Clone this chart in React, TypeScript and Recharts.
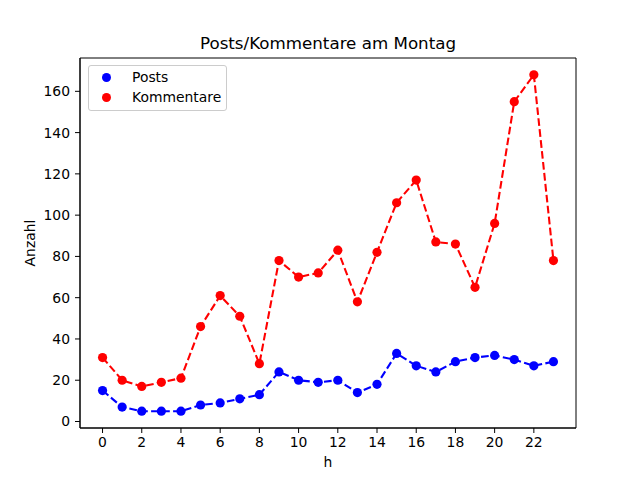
import {
  Legend,
  Line,
  LineChart,
  ReferenceArea,
  XAxis,
  YAxis,
} from 'recharts';

const hours = [
  0, 1, 2, 3, 4, 5, 6, 7, 8, 9, 10, 11, 12, 13, 14, 15, 16, 17, 18, 19, 20, 21, 22, 23,
];
const posts = [
  15, 7, 5, 5, 5, 8, 9, 11, 13, 24, 20, 19, 20, 14, 18, 33, 27, 24, 29, 31, 32, 30, 27, 29,
];
const kommentare = [
  31, 20, 17, 19, 21, 46, 61, 51, 28, 78, 70, 72, 83, 58, 82, 106, 117, 87, 86, 65, 96, 155, 168, 78,
];
const xTicks = [0, 2, 4, 6, 8, 10, 12, 14, 16, 18, 20, 22];
const yTicks = [0, 20, 40, 60, 80, 100, 120, 140, 160];

const X_DOMAIN: [number, number] = [-1.15, 24.15];
const Y_DOMAIN: [number, number] = [-3.15, 176.15];

const FONT = '"DejaVu Sans", sans-serif';
const BLUE = '#0000ff';
const RED = '#ff0000';

const data = hours.map((h, i) => ({ h, posts: posts[i], kommentare: kommentare[i] }));

const legendItems = [
  { label: 'Posts', color: BLUE },
  { label: 'Kommentare', color: RED },
];

function LegendBox() {
  return (
    <div
      style={{
        width: 137,
        height: 44,
        border: '1px solid #cccccc',
        borderRadius: 3,
        background: 'rgba(255,255,255,0.8)',
        boxSizing: 'content-box',
        fontFamily: FONT,
        fontSize: 13.9,
        color: '#000',
      }}
    >
      {legendItems.map((it, i) => (
        <div
          key={it.label}
          style={{ display: 'flex', alignItems: 'center', height: 20, marginTop: i === 0 ? 1 : 0 }}
        >
          <span
            style={{
              display: 'inline-block',
              width: 9,
              height: 9,
              borderRadius: '50%',
              background: it.color,
              marginLeft: 13,
              marginRight: 21,
            }}
          />
          <span>{it.label}</span>
        </div>
      ))}
    </div>
  );
}

export default function App() {
  return (
    <div style={{ position: 'absolute', left: 0, top: 0, width: 640, height: 480, background: '#fff' }}>
      <div
        style={{
          position: 'absolute',
          left: 80,
          width: 496,
          top: 33,
          textAlign: 'center',
          fontFamily: FONT,
          fontSize: 16.7,
          zIndex: 2,
        }}
      >
        Posts/Kommentare am Montag
      </div>
      <LineChart
        width={640}
        height={480}
        data={data}
        margin={{ top: 58, right: 64, bottom: 0, left: 0 }}
      >
        <XAxis
          dataKey="h"
          type="number"
          domain={X_DOMAIN}
          ticks={xTicks}
          interval={0}
          height={52}
          stroke="#000"
          tickSize={5}
          tickMargin={4}
          tick={{ fill: '#000', fontSize: 13.9, fontFamily: FONT }}
          label={{ value: 'h', position: 'insideBottom', offset: 13, fill: '#000', fontSize: 13.9, fontFamily: FONT }}
          allowDataOverflow
        />
        <YAxis
          type="number"
          domain={Y_DOMAIN}
          ticks={yTicks}
          interval={0}
          width={80}
          stroke="#000"
          tickSize={5}
          tickMargin={5}
          tick={{ fill: '#000', fontSize: 13.9, fontFamily: FONT }}
          allowDataOverflow
          label={{
            content: (props: any) => {
              const vb = props.viewBox || { x: 0, y: 58, width: 80, height: 370 };
              const cx = vb.x + 35;
              const cy = vb.y + vb.height / 2;
              return (
                <text
                  x={cx}
                  y={cy}
                  transform={`rotate(-90 ${cx} ${cy})`}
                  textAnchor="middle"
                  fill="#000"
                  fontSize={13.9}
                  fontFamily={FONT}
                >
                  Anzahl
                </text>
              );
            },
          }}
        />
        <ReferenceArea
          x1={X_DOMAIN[0]}
          x2={X_DOMAIN[1]}
          y1={Y_DOMAIN[0]}
          y2={Y_DOMAIN[1]}
          fill="none"
          stroke="#000"
          strokeWidth={1}
          ifOverflow="visible"
        />
        <Legend
          layout="vertical"
          align="center"
          verticalAlign="middle"
          content={() => <LegendBox />}
          wrapperStyle={{ left: 88, top: 65, width: 'auto' }}
        />
        <Line
          dataKey="posts"
          stroke={BLUE}
          strokeWidth={2.08}
          strokeDasharray="7.7 3.3"
          dot={{ r: 4.6, fill: BLUE, stroke: 'none' }}
          activeDot={false}
          isAnimationActive={false}
        />
        <Line
          dataKey="kommentare"
          stroke={RED}
          strokeWidth={2.08}
          strokeDasharray="7.7 3.3"
          dot={{ r: 4.6, fill: RED, stroke: 'none' }}
          activeDot={false}
          isAnimationActive={false}
        />
      </LineChart>
    </div>
  );
}
